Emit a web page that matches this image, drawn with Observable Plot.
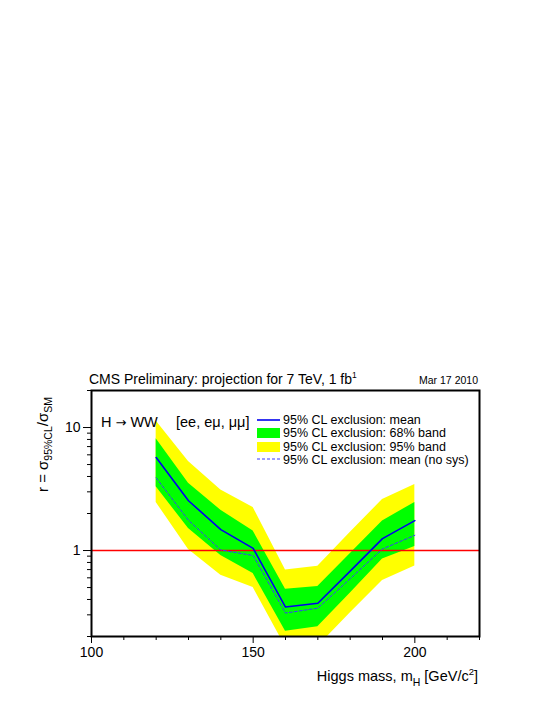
<!DOCTYPE html>
<html>
<head>
<meta charset="utf-8">
<script src="https://cdn.jsdelivr.net/npm/d3@7"></script>
<script src="https://cdn.jsdelivr.net/npm/@observablehq/plot@0.6"></script>
<style>
  html, body { margin: 0; padding: 0; background: #fff; }
  #chart { position: relative; width: 545px; height: 705px; }
  svg { font-family: "Liberation Sans", Arial, Helvetica, sans-serif; }
</style>
</head>
<body>
<div id="chart"></div>
<script>
// ---- data ----
const masses      = [120, 130, 140, 150, 160, 170, 180, 190, 200];
const meanLimit   = [5.7, 2.54, 1.48, 1.04, 0.347, 0.373, 0.68, 1.25, 1.75];
const meanNoSys   = [3.9, 1.76, 1.01, 0.91, 0.31, 0.34, 0.59, 1.03, 1.33];
const band68Low   = [3.3, 1.51, 0.91, 0.65, 0.221, 0.24, 0.45, 0.855, 1.08];
const band68High  = [8.1, 3.52, 2.13, 1.44, 0.485, 0.51, 0.94, 1.74, 2.46];
const band95Low   = [2.46, 1.02, 0.63, 0.5, 0.165, 0.166, 0.31, 0.57, 0.75];
const band95High  = [11.3, 5.3, 3.1, 2.24, 0.695, 0.745, 1.4, 2.6, 3.45];
const smLevel     = [1];
const xMajorTicks = [100, 150, 200];
const xMinorTicks = [110, 120, 130, 140, 160, 170, 180, 190, 210, 220];
const yMajorTicks = [1, 10];
const yMinorTicks = [0.2, 0.3, 0.4, 0.5, 0.6, 0.7, 0.8, 0.9, 2, 3, 4, 5, 6, 7, 8, 9, 20];
const legendLabels = [
  "95% CL exclusion: mean",
  "95% CL exclusion: 68% band",
  "95% CL exclusion: 95% band",
  "95% CL exclusion: mean (no sys)"
];

const rows = masses.map((m, i) => ({
  m, mean: meanLimit[i], nosys: meanNoSys[i],
  lo68: band68Low[i], hi68: band68High[i],
  lo95: band95Low[i], hi95: band95High[i]
}));

const chart = Plot.plot({
  width: 545,
  height: 705,
  marginTop: 390,
  marginLeft: 91,
  marginRight: 66,
  marginBottom: 69,
  style: { fontFamily: '"Liberation Sans", Arial, Helvetica, sans-serif', fontSize: "14px", color: "black", background: "white" },
  x: { domain: [100, 220], axis: null },
  y: { type: "log", domain: [0.2, 20], axis: null },
  marks: [
    Plot.areaY(rows, { x: "m", y1: "lo95", y2: "hi95", fill: "#ffff00", clip: true }),
    Plot.areaY(rows, { x: "m", y1: "lo68", y2: "hi68", fill: "#00ff00", clip: true }),
    Plot.ruleY(smLevel, { stroke: "#ff0000", strokeWidth: 1.5 }),
    Plot.lineY(rows, { x: "m", y: "nosys", stroke: "#3a3aff", strokeWidth: 1, strokeDasharray: "3,2", clip: true }),
    Plot.lineY(rows, { x: "m", y: "mean", stroke: "#0000ee", strokeWidth: 1.6, clip: true }),
    Plot.axisX(xMajorTicks, { anchor: "bottom", tickSize: 7, tickPadding: 4, tickFormat: d => String(d), fontSize: 14, label: null }),
    Plot.axisX(xMinorTicks, { anchor: "bottom", tickSize: 4, tickFormat: () => "", label: null }),
    Plot.axisY(yMajorTicks, { anchor: "left", tickSize: 8, tickPadding: 3, tickFormat: d => String(d), fontSize: 14, label: null }),
    Plot.axisY(yMinorTicks, { anchor: "left", tickSize: 4, tickFormat: () => "", label: null }),
    Plot.frame({ stroke: "black", strokeWidth: 2 })
  ]
});

document.getElementById("chart").appendChild(chart);

// ---- annotations (text and legend) ----
const svg = d3.select(chart);
const ff = '"Liberation Sans", Arial, Helvetica, sans-serif';

function txt(x, y, size, anchor) {
  return svg.append("text").attr("x", x).attr("y", y).attr("font-size", size)
    .attr("font-family", ff).attr("fill", "black").attr("text-anchor", anchor || "start");
}

// title
const t = txt(89, 384, 14);
t.append("tspan").text("CMS Preliminary: projection for 7 TeV, 1 fb");
t.append("tspan").attr("font-size", 8.5).attr("dy", -6).text("1");

txt(478, 384, 10.5, "end").text("Mar 17 2010");

// channel label
const ch = txt(101, 427, 14.5);
ch.append("tspan").text("H ");
ch.append("tspan").attr("font-family", '"DejaVu Sans", sans-serif').attr("font-size", 13).text("\u2192");
ch.append("tspan").text(" WW");
txt(176, 427, 14.5).text("[ee, e\u03bc, \u03bc\u03bc]");

// legend
const lg = svg.append("g").attr("font-family", ff).attr("font-size", 12.5).attr("fill", "black").attr("text-anchor", "start");
lg.append("line").attr("x1", 257).attr("x2", 280).attr("y1", 420).attr("y2", 420).attr("stroke", "#0000ee").attr("stroke-width", 1.6);
lg.append("rect").attr("x", 257).attr("y", 428).attr("width", 23).attr("height", 10).attr("fill", "#00ff00");
lg.append("rect").attr("x", 257).attr("y", 442).attr("width", 23).attr("height", 10).attr("fill", "#ffff00");
lg.append("line").attr("x1", 257).attr("x2", 280).attr("y1", 459).attr("y2", 459).attr("stroke", "#3a3aff").attr("stroke-width", 1).attr("stroke-dasharray", "3,2");
const baselines = [424, 437.3, 450.6, 463.9];
legendLabels.forEach((s, i) => {
  lg.append("text").attr("x", 283).attr("y", baselines[i]).text(s);
});

// y axis title (rotated)
const yt = svg.append("text").attr("transform", "translate(48,397) rotate(-90)").attr("text-anchor", "end")
  .attr("font-size", 15).attr("font-family", ff).attr("fill", "black");
yt.append("tspan").text("r = \u03c3");
yt.append("tspan").attr("font-size", 10.5).attr("dy", 4).text("95%CL");
yt.append("tspan").attr("dy", -4).text("/\u03c3");
yt.append("tspan").attr("font-size", 10.5).attr("dy", 4).text("SM");

// x axis title
const xt = txt(478, 681, 14.5, "end");
xt.append("tspan").text("Higgs mass, m");
xt.append("tspan").attr("font-size", 10.5).attr("dy", 5).text("H");
xt.append("tspan").attr("dy", -5).text(" [GeV/c");
xt.append("tspan").attr("font-size", 9.5).attr("dy", -6).text("2");
xt.append("tspan").attr("dy", 6).text("]");
</script>
</body>
</html>
